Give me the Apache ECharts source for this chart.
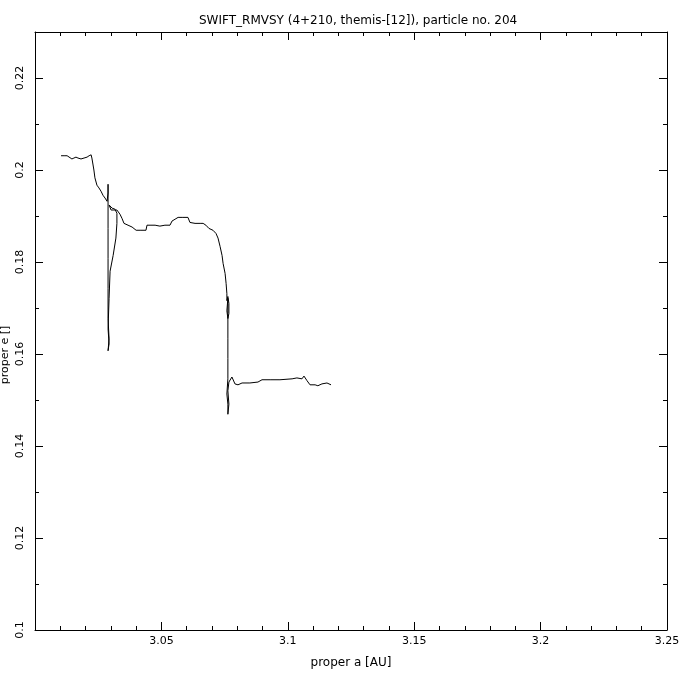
<!DOCTYPE html>
<html>
<head>
<meta charset="utf-8">
<script src="https://cdn.jsdelivr.net/npm/echarts@6/dist/echarts.min.js"></script>
<style>html,body{margin:0;padding:0;background:#fff;}#c{width:680px;height:680px;}</style>
</head>
<body>
<div id="c"></div>
<script>
const titleText = "SWIFT_RMVSY (4+210, themis-[12]), particle no. 204";
const xName = "proper a [AU]";
const yName = "proper e []";
const xTicks = [3.05, 3.1, 3.15, 3.2, 3.25];
const yTicks = [0.1, 0.12, 0.14, 0.16, 0.18, 0.2, 0.22];

const properA = [
  3.0103,3.0115,3.0127,3.0134,3.0146,3.0154,3.0162,3.0170,3.0182,3.0194,3.0206,3.0214,3.0222,
  3.0225,3.0229,3.0233,3.0237,3.0245,3.0253,3.0261,3.0269,3.0277,3.0285,
  3.0289,3.0289,3.0289,3.0289,3.0289,3.0289,3.0289,3.0293,3.0289,3.0293,3.0289,3.0293,
  3.0297,3.0309,3.0320,3.0324,3.0324,3.0316,3.0305,3.0293,
  3.0301,3.0312,3.0324,3.0336,3.0344,3.0352,3.0368,3.0384,3.0400,3.0419,3.0439,3.0443,
  3.0455,3.0475,3.0494,3.0514,3.0534,3.0542,3.0554,3.0566,3.0585,3.0605,3.0613,3.0633,
  3.0653,3.0665,3.0676,3.0688,3.0704,3.0716,3.0724,3.0732,3.0740,3.0744,3.0752,3.0756,
  3.0759,3.0759,
  3.0763,3.0767,3.0767,3.0763,3.0759,3.0763,3.0763,3.0763,3.0763,3.0763,3.0759,3.0763,
  3.0763,3.0767,3.0763,3.0767,
  3.0779,3.0791,3.0803,3.0819,3.0850,3.0882,3.0898,3.0930,3.0969,3.1017,3.1036,3.1056,
  3.1064,3.1076,3.1088,3.1108,3.1119,3.1135,3.1155,3.1171
];
const properE = [
  0.2031,0.2031,0.2031,0.2028,0.2024,0.2026,0.2028,0.2026,0.2024,0.2026,0.2028,0.2031,0.2033,
  0.2026,0.2013,0.2000,0.1983,0.1967,0.1961,0.1954,0.1945,0.1939,0.1932,
  0.1950,0.1969,0.1939,0.1873,0.1808,0.1742,0.1677,0.1633,0.1607,0.1622,0.1655,0.1721,
  0.1780,0.1814,0.1852,0.1884,0.1906,0.1915,0.1917,0.1924,
  0.1913,0.1913,0.1913,0.1904,0.1895,0.1884,0.1880,0.1876,0.1869,0.1869,0.1869,0.1880,
  0.1880,0.1880,0.1878,0.1880,0.1880,0.1889,0.1893,0.1897,0.1897,0.1897,0.1886,0.1884,
  0.1884,0.1884,0.1880,0.1873,0.1869,0.1862,0.1852,0.1834,0.1814,0.1797,0.1775,0.1753,
  0.1731,0.1716,
  0.1725,0.1710,0.1688,0.1677,0.1694,0.1721,0.1677,0.1633,0.1590,0.1546,0.1513,0.1491,
  0.1469,0.1491,0.1520,0.1539,
  0.1550,0.1535,0.1533,0.1537,0.1537,0.1539,0.1544,0.1544,0.1544,0.1546,0.1548,0.1546,
  0.1552,0.1542,0.1533,0.1533,0.1531,0.1535,0.1537,0.1533
];

const font = "DejaVu Sans";
const data = properA.map((a, i) => [a, properE[i]]);
const chart = echarts.init(document.getElementById('c'), null, {renderer: 'canvas'});

function fmt(v, list) {
  for (const t of list) if (Math.abs(t - v) < 1e-9) return String(t);
  return '';
}

const xBase = {
  type: 'value', min: 3.0, max: 3.25, interval: 0.05,
  axisLine: {show: true, onZero: false, lineStyle: {color: '#000', width: 1}},
  axisTick: {show: true, inside: true, length: 8, lineStyle: {color: '#000'}},
  minorTick: {show: true, splitNumber: 5, length: 4, lineStyle: {color: '#000'}},
  splitLine: {show: false}
};
const yBase = {
  type: 'value', min: 0.1, max: 0.23, interval: 0.02,
  axisLine: {show: true, onZero: false, lineStyle: {color: '#000', width: 1}},
  axisTick: {show: true, inside: true, length: 8, lineStyle: {color: '#000'}},
  minorTick: {show: true, splitNumber: 2, length: 4, lineStyle: {color: '#000'}},
  splitLine: {show: false}
};

chart.setOption({
  animation: false,
  backgroundColor: '#fff',
  title: {
    text: titleText, left: 194, top: 10,
    textStyle: {fontFamily: font, fontSize: 12, fontWeight: 'normal', color: '#000'}
  },
  grid: {left: 35, right: 13, top: 32, bottom: 50, containLabel: false, outerBoundsMode: 'none'},
  xAxis: [
    Object.assign({}, xBase, {
      position: 'bottom', name: xName, nameLocation: 'middle', nameGap: 27, nameMoveOverlap: false,
      nameTextStyle: {fontFamily: font, fontSize: 12, color: '#000'},
      axisLabel: {show: true, margin: 6, fontFamily: font, fontSize: 11, color: '#000',
        showMinLabel: false, formatter: v => fmt(v, xTicks)}
    }),
    Object.assign({}, xBase, {position: 'top', axisLabel: {show: false}})
  ],
  yAxis: [
    Object.assign({}, yBase, {
      position: 'left', name: yName, nameLocation: 'middle', nameGap: 24, nameRotate: 90,
      nameMoveOverlap: false,
      nameTextStyle: {fontFamily: font, fontSize: 11, color: '#000', padding: [0, 48, 0, 0]},
      axisLabel: {show: true, rotate: 90, margin: 9, fontFamily: font, fontSize: 11, color: '#000',
        showMaxLabel: false, formatter: v => fmt(v, yTicks)}
    }),
    Object.assign({}, yBase, {position: 'right', axisLabel: {show: false}})
  ],
  series: [{
    type: 'line', data: data, xAxisIndex: 0, yAxisIndex: 0,
    showSymbol: false, symbol: 'none', smooth: false,
    lineStyle: {color: '#000', width: 1}
  }]
});
</script>
</body>
</html>
